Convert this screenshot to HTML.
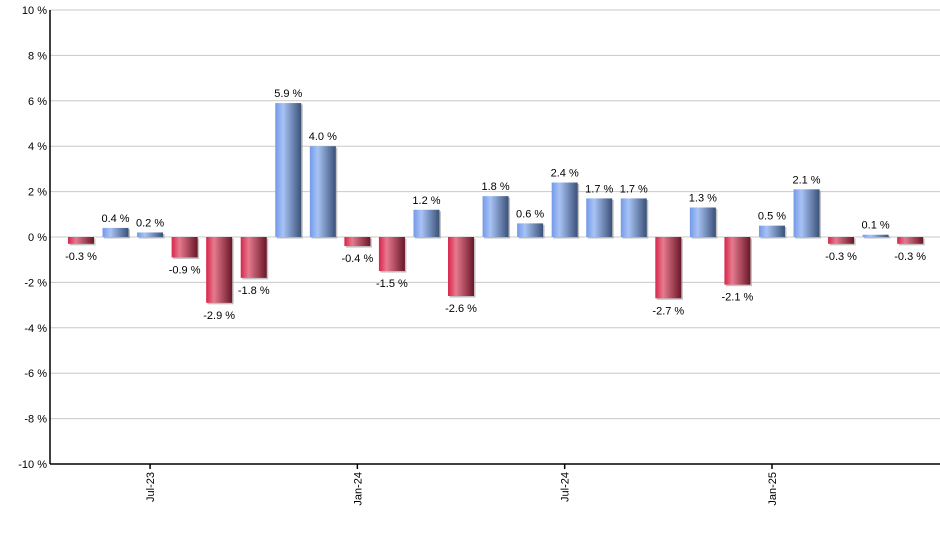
<!DOCTYPE html>
<html><head><meta charset="utf-8"><style>
body{margin:0;background:#fff;}
svg{font-family:"Liberation Sans",sans-serif;}
</style></head><body>
<svg id="chart" width="940" height="550" viewBox="0 0 940 550" xmlns="http://www.w3.org/2000/svg">
<defs>
<linearGradient id="gBlue" x1="0" x2="1" y1="0" y2="0">
<stop offset="0" stop-color="#7399e8"/><stop offset="0.3" stop-color="#a8c3f5"/><stop offset="1" stop-color="#3a5178"/></linearGradient>
<linearGradient id="gRed" x1="0" x2="1" y1="0" y2="0">
<stop offset="0" stop-color="#d8244a"/><stop offset="0.3" stop-color="#e67a8e"/><stop offset="1" stop-color="#6a1628"/></linearGradient>
</defs>
<g id="grid"></g><g id="bars"></g><g id="labels"></g><g id="axes"></g>
</svg>
<script>
const values=[-0.3,0.4,0.2,-0.9,-2.9,-1.8,5.9,4.0,-0.4,-1.5,1.2,-2.6,1.8,0.6,2.4,1.7,1.7,-2.7,1.3,-2.1,0.5,2.1,-0.3,0.1,-0.3];
const yTicks=[10,8,6,4,2,0,-2,-4,-6,-8,-10];
const xTickIdx=[2,8,14,20];
const xTickLabels=["Jul-23","Jan-24","Jul-24","Jan-25"];
const NS="http://www.w3.org/2000/svg";
const plotL=50,plotR=940,plotT=10,plotB=464,yMin=-10,yMax=10;
const x0=63.7,slot=34.55,bw=26;
function yS(v){return plotB-(v-yMin)/(yMax-yMin)*(plotB-plotT);}
function xC(i){return x0+slot*(i+0.5);}
function mk(tag,attrs,parent){const e=document.createElementNS(NS,tag);for(const k in attrs)e.setAttribute(k,attrs[k]);parent.appendChild(e);return e;}
const grid=document.getElementById('grid'),bars=document.getElementById('bars'),labels=document.getElementById('labels'),axes=document.getElementById('axes');
yTicks.forEach(t=>{
 const y=yS(t);
 const l=mk('line',{x1:plotL,x2:plotR,y1:y,y2:y,stroke:'#c8c8c8','stroke-width':1},grid);
 
 
 const tx=mk('text',{x:47,y:y+4,'text-anchor':'end','font-size':11,fill:'#000'},axes);
 tx.textContent=t+' %';
 
 
});
values.forEach((v,i)=>{
 const x=xC(i)-bw/2,y0=yS(0),y1=yS(v);
 const top=Math.min(y0,y1),h=Math.max(Math.abs(y1-y0),1);
 const sh=mk('rect',{x:x+1.5,y:top+1.5,width:bw,height:h,fill:'#9a9a9a',opacity:0.6},bars);
 
 
 const r=mk('rect',{x:x,y:top,width:bw,height:h,fill:v>=0?'url(#gBlue)':'url(#gRed)'},bars);
 
 
 const ly=v>=0?y1-6:y1+16;
 const t=mk('text',{x:xC(i),y:ly,'text-anchor':'middle','font-size':11,fill:'#000'},labels);
 t.textContent=v.toFixed(1)+' %';
 
 
});
const ya=mk('line',{x1:plotL,x2:plotL,y1:plotT,y2:plotB,stroke:'#000','stroke-width':1.5},axes);


const xa=mk('line',{x1:plotL,x2:plotR,y1:plotB,y2:plotB,stroke:'#000','stroke-width':1.5},axes);


xTickIdx.forEach((idx,k)=>{
 const x=xC(idx);
 const tk=mk('line',{x1:x,x2:x,y1:plotB,y2:plotB+5,stroke:'#000','stroke-width':1.5},axes);
 
 
 const t=mk('text',{x:0,y:0,'text-anchor':'end','font-size':11,fill:'#000',transform:`translate(${x+4},${plotB+8}) rotate(-90)`},axes);
 t.textContent=xTickLabels[k];
 
 
});
</script>
</body></html>
